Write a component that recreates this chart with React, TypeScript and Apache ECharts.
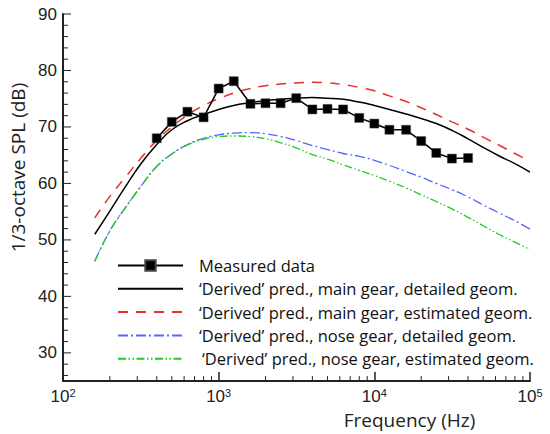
import React, { useEffect, useRef } from "react";
import * as echarts from "echarts";

const freqs = [160, 200, 250, 315, 400, 500, 630, 800, 1000, 1250, 1600, 2000, 2500, 3150, 4000, 5000, 6300, 8000, 10000, 12500, 16000, 20000, 25000, 31500, 40000, 50000, 63000, 80000, 100000];
const mainDetailed = [51.0, 55.1, 59.3, 63.4, 66.9, 69.5, 71.1, 72.2, 73.1, 73.8, 74.3, 74.7, 74.9, 75.1, 75.2, 75.1, 74.9, 74.4, 73.8, 73.1, 72.3, 71.5, 70.6, 69.4, 67.9, 66.4, 64.9, 63.5, 62.0];
const mainEstimated = [53.9, 57.7, 61.0, 64.4, 67.6, 70.0, 72.1, 73.8, 75.0, 76.0, 76.8, 77.3, 77.6, 77.8, 77.9, 77.8, 77.5, 77.0, 76.4, 75.5, 74.5, 73.4, 72.2, 70.9, 69.6, 68.2, 66.8, 65.3, 63.9];
const noseDetailed = [46.2, 51.6, 55.6, 59.4, 63.0, 65.2, 66.9, 68.0, 68.6, 68.9, 69.0, 68.8, 68.3, 67.6, 66.7, 66.0, 65.3, 64.8, 64.1, 63.2, 62.1, 61.1, 60.0, 58.9, 57.6, 56.2, 54.8, 53.4, 51.9];
const noseEstimated = [46.2, 51.6, 55.6, 59.4, 63.0, 65.2, 66.8, 67.8, 68.3, 68.4, 68.3, 67.9, 67.2, 66.3, 65.1, 64.3, 63.3, 62.3, 61.4, 60.4, 59.2, 58.0, 56.8, 55.5, 54.0, 52.5, 51.0, 49.6, 48.3];

const measuredFreqs = [400, 500, 630, 800, 1000, 1250, 1600, 2000, 2500, 3150, 4000, 5000, 6300, 8000, 10000, 12500, 16000, 20000, 25000, 31500, 40000];
const measuredValues = [68.0, 70.9, 72.7, 71.7, 76.8, 78.1, 74.1, 74.2, 74.2, 75.1, 73.1, 73.2, 73.1, 71.6, 70.6, 69.5, 69.5, 67.5, 65.4, 64.4, 64.5];

const xMinorTicks = [200, 300, 400, 500, 600, 700, 800, 900, 2000, 3000, 4000, 5000, 6000, 7000, 8000, 9000, 20000, 30000, 40000, 50000, 60000, 70000, 80000, 90000];
const yMajorTicks = [30, 40, 50, 60, 70, 80, 90];
const yMinorTicks = [26, 28, 32, 34, 36, 38, 42, 44, 46, 48, 52, 54, 56, 58, 62, 64, 66, 68, 72, 74, 76, 78, 82, 84, 86, 88];

const Y_MIN = 25;
const Y_MAX = 90;
const X_MIN = 100;
const X_MAX = 100000;

const names = [
  "Measured data",
  "\u2018Derived\u2019 pred., main gear, detailed geom.",
  "\u2018Derived\u2019 pred., main gear, estimated geom.",
  "\u2018Derived\u2019 pred., nose gear, detailed geom.",
  "\u2018Derived\u2019 pred., nose gear, estimated geom.",
];

const zip = (xs: number[], ys: number[]) => xs.map((x, i) => [x, ys[i]]);

function tickSeries(name: string, data: number[][], len: number, vertical: boolean) {
  return {
    name,
    type: "custom",
    silent: true,
    clip: false,
    z: 10,
    data,
    renderItem: (params: any, api: any) => {
      const p = api.coord([api.value(0), api.value(1)]);
      const shape = vertical
        ? { x1: p[0], y1: p[1], x2: p[0], y2: p[1] - len }
        : { x1: p[0], y1: p[1], x2: p[0] + len, y2: p[1] };
      return { type: "line", shape, style: { stroke: "#222", lineWidth: 1 } };
    },
  };
}

export default function App() {
  const ref = useRef<HTMLDivElement>(null);
  useEffect(() => {
    if (!ref.current) return;
    const chart = echarts.init(ref.current, null, { renderer: "svg" });
    const nameFont = "'Open Sans', Lato, sans-serif";
    const tickFont = "'Liberation Sans', Arial, sans-serif";
    const hiddenSymbol = { opacity: 0 };
    chart.setOption({
      animation: false,
      backgroundColor: "#fff",
      grid: { left: 63, right: 20, top: 14, bottom: 48 },
      xAxis: {
        type: "log",
        logBase: 10,
        min: X_MIN,
        max: X_MAX,
        name: "Frequency (Hz)",
        nameLocation: "middle",
        nameGap: 22,
        nameTextStyle: { fontFamily: nameFont, fontSize: 19, color: "#222", padding: [0, 0, 0, 226] },
        axisLine: { show: true, onZero: false, lineStyle: { color: "#222", width: 2 } },
        axisTick: { show: true, inside: true, length: 9, lineStyle: { color: "#222", width: 1.5 } },
        minorTick: { show: false },
        splitLine: { show: false },
        axisLabel: {
          margin: 6,
          formatter: (v: number) => "10{sup|" + Math.round(Math.log10(v)) + "}",
          rich: {
            sup: { fontSize: 11, fontFamily: tickFont, color: "#222", verticalAlign: "top", padding: [0, 0, 8, 0] },
          },
          fontFamily: tickFont,
          fontSize: 17,
          color: "#222",
        },
      },
      yAxis: {
        type: "value",
        min: Y_MIN,
        max: Y_MAX,
        interval: 5,
        name: "1/3-octave SPL (dB)",
        nameLocation: "middle",
        nameGap: 32,
        nameTextStyle: { fontFamily: nameFont, fontSize: 19, color: "#222", padding: [0, 0, 0, 60] },
        axisLine: { show: true, onZero: false, lineStyle: { color: "#222", width: 2 } },
        axisTick: { show: false },
        splitLine: { show: false },
        axisLabel: {
          margin: 6,
          formatter: (v: number) => (v % 10 === 0 ? String(v) : ""),
          fontFamily: tickFont,
          fontSize: 17,
          color: "#222",
        },
      },
      legend: {
        orient: "vertical",
        left: 117,
        top: 257,
        padding: 0,
        itemWidth: 65,
        itemHeight: 13,
        itemGap: 6.3,
        data: [
          { name: names[0] },
          { name: names[1], itemStyle: hiddenSymbol },
          { name: names[2], itemStyle: hiddenSymbol },
          { name: names[3], itemStyle: hiddenSymbol },
          { name: names[4], itemStyle: hiddenSymbol, textStyle: { padding: [0, 0, 0, 14] } },
        ],
        textStyle: { fontFamily: nameFont, fontSize: 16.5, lineHeight: 13, color: "#111", padding: [0, 0, 0, 11] },
      },
      series: [
        {
          name: names[1],
          type: "line",
          data: zip(freqs, mainDetailed),
          smooth: true,
          symbol: "none",
          lineStyle: { color: "#000", width: 1.5 },
          itemStyle: { color: "#000" },
          z: 3,
        },
        {
          name: names[2],
          type: "line",
          data: zip(freqs, mainEstimated),
          smooth: true,
          symbol: "none",
          lineStyle: { color: "#e8302a", width: 1.5, type: [10, 8] },
          itemStyle: { color: "#e8302a" },
          z: 3,
        },
        {
          name: names[3],
          type: "line",
          data: zip(freqs, noseDetailed),
          smooth: true,
          symbol: "none",
          lineStyle: { color: "#5566ff", width: 1.3, type: [10, 3, 2, 3] },
          itemStyle: { color: "#5566ff" },
          z: 3,
        },
        {
          name: names[4],
          type: "line",
          data: zip(freqs, noseEstimated),
          smooth: true,
          symbol: "none",
          lineStyle: { color: "#22cc22", width: 1.3, type: [8, 2.5, 1.5, 2.5, 1.5, 2.5] },
          itemStyle: { color: "#22cc22" },
          z: 4,
        },
        {
          name: names[0],
          type: "line",
          data: zip(measuredFreqs, measuredValues),
          symbol: "rect",
          symbolSize: 9,
          lineStyle: { color: "#000", width: 1.5 },
          itemStyle: { color: "#000", borderColor: "#444", borderWidth: 0.5 },
          z: 5,
        },
        tickSeries("xminor", xMinorTicks.map((f) => [f, Y_MIN]), 5, true),
        tickSeries("ymajor", yMajorTicks.map((v) => [X_MIN, v]), 8, false),
        tickSeries("yminor", yMinorTicks.map((v) => [X_MIN, v]), 5, false),
      ],
    });
    return () => chart.dispose();
  }, []);
  return <div ref={ref} style={{ position: "fixed", left: 0, top: 0, width: 550, height: 434 }} />;
}
